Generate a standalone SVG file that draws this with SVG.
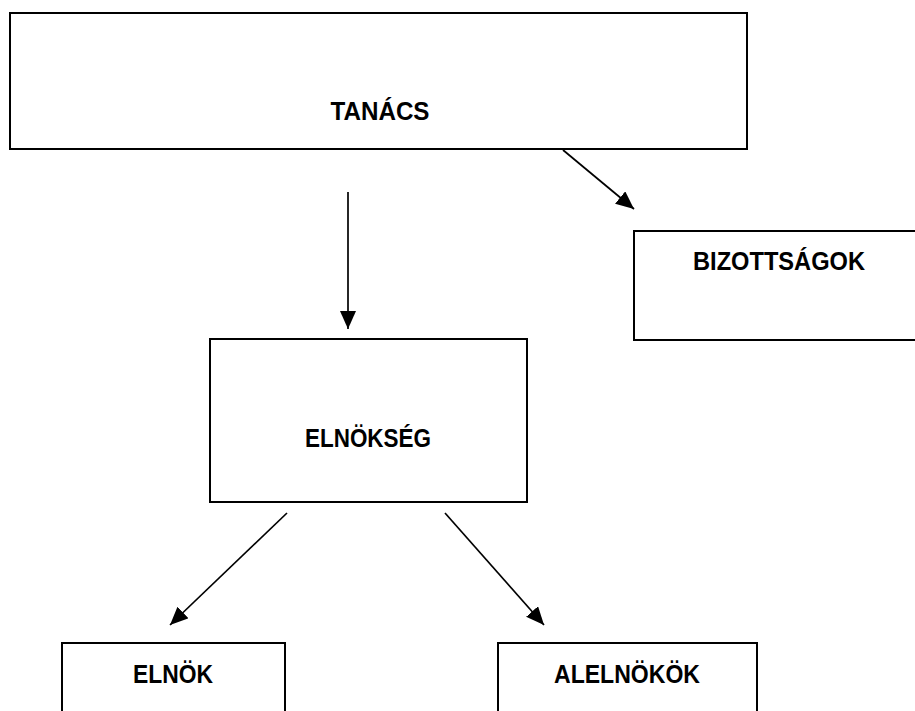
<svg xmlns="http://www.w3.org/2000/svg" width="915" height="711" viewBox="0 0 915 711">
<defs>
<marker id="arr" markerUnits="userSpaceOnUse" markerWidth="19" markerHeight="17" refX="18" refY="8" orient="auto">
<path d="M0,0 L18,8 L0,16 z" fill="#000"/>
</marker>
<style>
.box{fill:#fff;stroke:#000;stroke-width:2}
.lbl{font-family:"Liberation Sans",Arial,sans-serif;font-weight:bold;font-size:25px;fill:#000;text-anchor:middle}
.con{stroke:#000;stroke-width:1.7;fill:none;marker-end:url(#arr)}
</style>
</defs>
<rect width="915" height="711" fill="#fff"/>
<g id="tanacs">
<rect class="box" x="10" y="13" width="737" height="136"/>
<text class="lbl" x="380" y="120" textLength="99" lengthAdjust="spacingAndGlyphs">TANÁCS</text>
</g>
<g id="bizottsagok">
<rect class="box" x="634" y="231" width="300" height="109"/>
<text class="lbl" x="779" y="270" textLength="172" lengthAdjust="spacingAndGlyphs">BIZOTTSÁGOK</text>
</g>
<g id="elnokseg">
<rect class="box" x="210" y="339" width="317" height="163"/>
<text class="lbl" x="368" y="447" textLength="126" lengthAdjust="spacingAndGlyphs">ELNÖKSÉG</text>
</g>
<g id="elnok">
<rect class="box" x="62" y="643" width="223" height="90"/>
<text class="lbl" x="173" y="683" textLength="80" lengthAdjust="spacingAndGlyphs">ELNÖK</text>
</g>
<g id="alelnokok">
<rect class="box" x="498" y="643" width="259" height="90"/>
<text class="lbl" x="627" y="683" textLength="146" lengthAdjust="spacingAndGlyphs">ALELNÖKÖK</text>
</g>
<g id="connectors">
<line class="con" x1="563" y1="150" x2="634" y2="209"/>
<line class="con" x1="348" y1="192" x2="348" y2="329"/>
<line class="con" x1="287" y1="513" x2="170" y2="625"/>
<line class="con" x1="445" y1="513" x2="544" y2="625"/>
</g>
</svg>
